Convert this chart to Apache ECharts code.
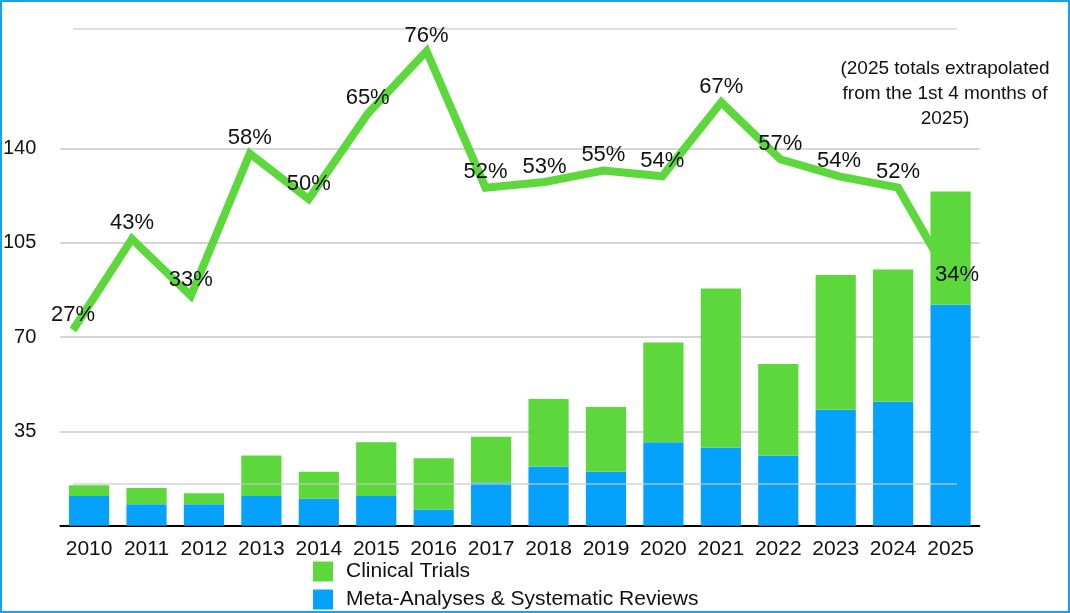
<!DOCTYPE html>
<html>
<head>
<meta charset="utf-8">
<script src="https://cdn.jsdelivr.net/npm/echarts@6/dist/echarts.min.js"></script>
<style>
  html, body { margin: 0; padding: 0; background: #fff; }
  #frame { width: 1070px; height: 613px; box-sizing: border-box; border: 2px solid #16a2f4; position: relative; }
  #chart { position: absolute; left: -2px; top: -2px; width: 1070px; height: 613px; }
</style>
</head>
<body>
<div id="frame"><div id="chart"></div></div>
<script>
const years = ['2010','2011','2012','2013','2014','2015','2016','2017','2018','2019','2020','2021','2022','2023','2024','2025'];
const metaAnalyses = [11, 8, 8, 11, 10, 11, 6, 16, 22, 20, 31, 29, 26, 43, 46, 82];
const clinicalTrials = [4, 6, 4, 15, 10, 20, 19, 17, 25, 24, 37, 59, 34, 50, 49, 42];
const trialShare = [27, 43, 33, 58, 50, 65, 76, 52, 53, 55, 54, 67, 57, 54, 52, 34];
const countTicks = [35, 70, 105, 140];
const note = '(2025 totals extrapolated\nfrom the 1st 4 months of\n2025)';

const FONT = '"Liberation Sans", Arial, Helvetica, sans-serif';
const GREEN = '#5dd83c';
const BLUE = '#05a2fd';

const chart = echarts.init(document.getElementById('chart'), null, { renderer: 'canvas' });
chart.setOption({
  animation: false,
  backgroundColor: 'transparent',
  textStyle: { fontFamily: FONT, color: '#111' },
  grid: [
    { left: 60, right: 90.7, top: 148.3, bottom: 87.3 },
    { left: 73, right: 113, top: 28.3, bottom: 129.3 }
  ],
  legend: {
    orient: 'vertical',
    left: 313, top: 561, padding: 0,
    itemWidth: 20, itemHeight: 20, itemGap: 7,
    icon: 'rect',
    textStyle: { fontFamily: FONT, fontSize: 21, color: '#111', padding: [0, 0, 0, 8] },
    data: ['Clinical Trials', 'Meta-Analyses & Systematic Reviews']
  },
  xAxis: [
    {
      type: 'category', gridIndex: 0, data: years,
      axisLine: { show: true, lineStyle: { color: '#000', width: 2 } },
      axisTick: { show: false },
      axisLabel: { fontFamily: FONT, fontSize: 21, color: '#111', margin: 13, interval: 0 }
    },
    {
      type: 'category', gridIndex: 1, data: years, boundaryGap: false, show: false
    }
  ],
  yAxis: [
    {
      type: 'value', gridIndex: 0, min: 0, max: countTicks[countTicks.length - 1], interval: countTicks[0],
      axisLine: { show: false }, axisTick: { show: false },
      axisLabel: { fontFamily: FONT, fontSize: 20, color: '#111', margin: 24, showMinLabel: false },
      splitLine: { show: true, lineStyle: { color: '#c9c9c9', width: 1.5 } }
    },
    {
      type: 'value', gridIndex: 1, min: 0, max: 80, interval: 80, z: 3,
      axisLine: { show: false }, axisTick: { show: false }, axisLabel: { show: false },
      splitLine: { show: true, lineStyle: { color: '#c9c9c9', width: 1.5, opacity: 0.8 } }
    }
  ],
  graphic: [
    {
      type: 'text', left: 945 - 110, top: 56, z: 10,
      style: {
        text: note, x: 110, textAlign: 'center', width: 220,
        font: '19px ' + FONT, fill: '#111', lineHeight: 25
      }
    }
  ],
  series: [
    {
      name: 'Trial share line', type: 'line', xAxisIndex: 1, yAxisIndex: 1, z: 1,
      data: trialShare, symbol: 'none', silent: true,
      lineStyle: { color: GREEN, width: 8, join: 'miter' },
      label: { show: false }
    },
    {
      name: 'Meta-Analyses & Systematic Reviews', type: 'bar', stack: 'total', z: 2,
      xAxisIndex: 0, yAxisIndex: 0, data: metaAnalyses, barCategoryGap: '30%',
      itemStyle: { color: BLUE }
    },
    {
      name: 'Clinical Trials', type: 'bar', stack: 'total', z: 2,
      xAxisIndex: 0, yAxisIndex: 0, data: clinicalTrials, barCategoryGap: '30%',
      itemStyle: { color: GREEN }
    },
    {
      name: 'Trial share labels', type: 'scatter', xAxisIndex: 1, yAxisIndex: 1, z: 10,
      data: trialShare, symbol: 'circle', symbolSize: 1, silent: true,
      itemStyle: { color: 'rgba(0,0,0,0)', opacity: 1 },
      label: {
        show: true, position: 'top', distance: 4,
        formatter: p => p.value + '%',
        fontFamily: FONT, fontSize: 22, color: '#111', opacity: 1
      }
    }
  ]
});
</script>
</body>
</html>
